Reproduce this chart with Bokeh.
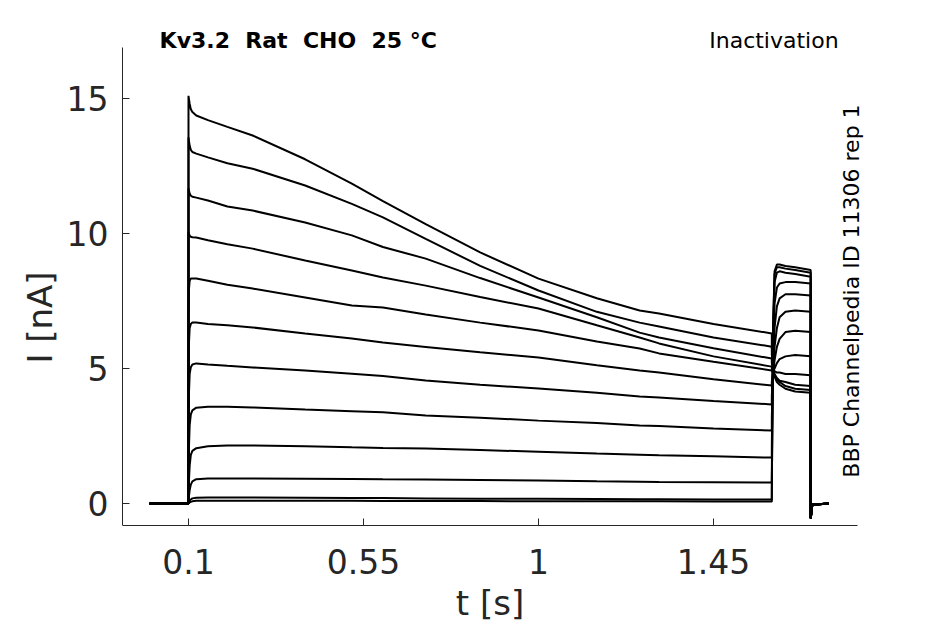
from math import pi
from bokeh.plotting import figure
from bokeh.models import Range1d, FixedTicker, Label
from bokeh.embed import file_html
from bokeh.resources import INLINE

# ---- data ----
t = [0.0, 0.0999, 0.1, 0.101, 0.103, 0.106, 0.11, 0.12, 0.15, 0.2, 0.265, 0.4, 0.52, 0.6,
     0.71, 0.85, 1.0, 1.15, 1.26, 1.31, 1.45, 1.5999,
     1.6, 1.603, 1.607, 1.613, 1.62, 1.635, 1.66, 1.6999,
     1.7, 1.704, 1.746]

pre = [  # prepulse currents (nA) at t[2:22]
    [0.01, 0.02, 0.04, 0.06, 0.08, 0.10, 0.10, 0.10, 0.10, 0.10, 0.10, 0.09, 0.09, 0.09, 0.08, 0.08, 0.08, 0.08, 0.07, 0.07],
    [0.02, 0.05, 0.10, 0.15, 0.19, 0.21, 0.22, 0.22, 0.22, 0.21, 0.20, 0.20, 0.19, 0.18, 0.18, 0.17, 0.16, 0.16, 0.15, 0.15],
    [0.10, 0.25, 0.50, 0.70, 0.82, 0.90, 0.93, 0.93, 0.93, 0.92, 0.91, 0.90, 0.89, 0.87, 0.85, 0.82, 0.81, 0.80, 0.79, 0.78],
    [0.30, 0.80, 1.40, 1.80, 1.95, 2.05, 2.12, 2.15, 2.15, 2.12, 2.08, 2.06, 2.04, 1.98, 1.92, 1.85, 1.81, 1.79, 1.75, 1.70],
    [1.00, 2.00, 2.90, 3.30, 3.45, 3.55, 3.58, 3.58, 3.56, 3.48, 3.42, 3.38, 3.26, 3.18, 3.07, 2.98, 2.89, 2.87, 2.78, 2.70],
    [2.50, 4.00, 4.80, 5.05, 5.15, 5.19, 5.15, 5.10, 5.04, 4.93, 4.81, 4.72, 4.56, 4.40, 4.26, 4.10, 3.96, 3.93, 3.80, 3.67],
    [4.50, 5.90, 6.50, 6.65, 6.70, 6.70, 6.65, 6.60, 6.52, 6.30, 6.11, 5.96, 5.80, 5.60, 5.41, 5.12, 4.93, 4.85, 4.60, 4.37],
    [7.00, 7.90, 8.25, 8.33, 8.33, 8.33, 8.25, 8.10, 7.96, 7.63, 7.33, 7.26, 7.00, 6.70, 6.41, 6.00, 5.74, 5.56, 5.25, 4.93],
    [10.05, 10.0, 9.92, 9.88, 9.86, 9.85, 9.75, 9.60, 9.44, 9.00, 8.63, 8.37, 8.07, 7.65, 7.22, 6.60, 6.15, 5.93, 5.45, 5.07],
    [11.67, 11.6, 11.48, 11.40, 11.36, 11.33, 11.22, 11.0, 10.85, 10.41, 9.93, 9.50, 9.07, 8.35, 7.63, 6.90, 6.33, 6.15, 5.75, 5.37],
    [13.56, 13.45, 13.25, 13.10, 13.02, 12.96, 12.82, 12.6, 12.40, 11.78, 11.10, 10.60, 9.80, 8.80, 7.89, 7.10, 6.70, 6.56, 6.15, 5.81],
    [15.10, 15.0, 14.80, 14.60, 14.50, 14.37, 14.20, 13.95, 13.63, 12.75, 11.85, 11.20, 10.35, 9.30, 8.33, 7.60, 7.15, 7.04, 6.65, 6.30],
]

test = [  # test-pulse currents (nA) at t[22:30]
    [0.5, 6.5, 8.6, 8.85, 8.85, 8.8, 8.75, 8.65],
    [0.6, 6.3, 8.5, 8.75, 8.75, 8.7, 8.65, 8.55],
    [1.2, 6.0, 8.2, 8.55, 8.6, 8.55, 8.5, 8.4],
    [2.2, 5.5, 7.4, 8.0, 8.15, 8.2, 8.2, 8.15],
    [3.2, 5.0, 6.5, 7.3, 7.6, 7.75, 7.75, 7.7],
    [4.0, 4.8, 5.8, 6.5, 6.9, 7.1, 7.15, 7.1],
    [4.5, 4.8, 5.3, 5.8, 6.1, 6.35, 6.4, 6.35],
    [4.9, 4.9, 5.0, 5.2, 5.35, 5.45, 5.5, 5.45],
    [5.0, 4.95, 4.9, 4.85, 4.85, 4.8, 4.8, 4.75],
    [5.2, 4.95, 4.8, 4.65, 4.55, 4.5, 4.4, 4.35],
    [5.5, 5.0, 4.75, 4.6, 4.5, 4.35, 4.25, 4.2],
    [5.8, 5.0, 4.7, 4.5, 4.4, 4.25, 4.15, 4.1],
]

baseline_start = [0.0, 0.0]
tail = [-0.55, -0.05, 0.0]

x_ticks = [0.1, 0.55, 1.0, 1.45]
x_tick_labels = ["0.1", "0.55", "1", "1.45"]
y_ticks = [0, 5, 10, 15]
x_axis_span = (-0.0697, 1.820)
y_axis_span = (-0.815, 16.89)

title_text = "Kv3.2 \u00a0Rat \u00a0CHO \u00a025 °C"

FONT = "DejaVu Sans"
AX = "#262626"

p = figure(width=945, height=624, output_backend="svg", toolbar_location=None,
           x_range=Range1d(-0.0697, 1.8794), y_range=Range1d(-4.481, 18.26),
           min_border_left=122, min_border_right=65, min_border_top=10, min_border_bottom=0)
p.outline_line_color = None
p.grid.visible = False
p.background_fill_color = "white"

for pr, ts in zip(pre, test):
    ys = baseline_start + pr + ts + tail
    p.line(t, ys, line_color="black", line_width=2)

p.xaxis.ticker = FixedTicker(ticks=x_ticks)
p.xaxis.major_label_overrides = {v: s for v, s in zip(x_ticks, x_tick_labels)}
p.yaxis.ticker = FixedTicker(ticks=y_ticks)
p.xaxis.bounds = x_axis_span
p.yaxis.bounds = y_axis_span
p.xaxis.fixed_location = y_axis_span[0]

for ax in (p.xaxis[0], p.yaxis[0]):
    ax.axis_line_color = AX
    ax.axis_line_width = 1
    ax.major_tick_line_color = AX
    ax.major_tick_in = 7
    ax.major_tick_out = 0
    ax.minor_tick_line_color = None
    ax.major_label_text_font = FONT
    ax.major_label_text_font_size = "33px"
    ax.major_label_text_color = AX
    ax.axis_label_text_font = FONT
    ax.axis_label_text_font_size = "34px"
    ax.axis_label_text_font_style = "normal"
    ax.axis_label_text_color = AX

p.xaxis.axis_label = "t [s]"
p.yaxis.axis_label = "I [nA]"
p.xaxis.major_label_standoff = 23
p.yaxis.major_label_standoff = 14
p.xaxis.axis_label_standoff = 6
p.yaxis.axis_label_standoff = 4

p.add_layout(Label(x=0.0257, y=17.16, text=title_text, text_font=FONT,
                   text_font_size="22px", text_font_style="bold", text_color="black",
                   text_baseline="middle", text_align="left"))
p.add_layout(Label(x=1.7717, y=17.16, text="Inactivation", text_font=FONT,
                   text_font_size="22px", text_color="black",
                   text_baseline="middle", text_align="right"))
p.add_layout(Label(x=1.805, y=7.87, text="BBP Channelpedia ID 11306 rep 1", text_font=FONT,
                   text_font_size="22px", text_color="black", angle=pi / 2,
                   text_baseline="middle", text_align="center"))

open("out.html", "w").write(file_html(p, INLINE))
